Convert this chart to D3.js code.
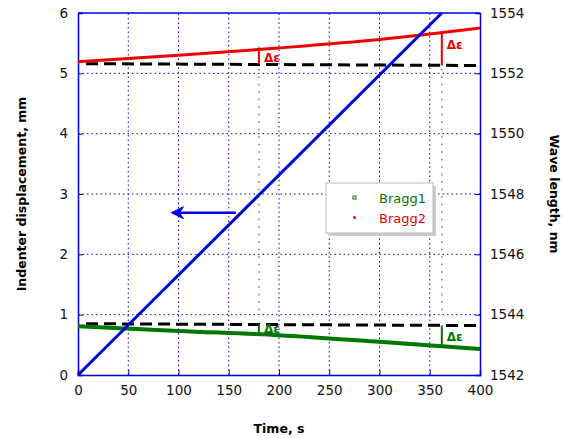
<!DOCTYPE html>
<html>
<head>
<meta charset="utf-8">
<script src="https://cdn.jsdelivr.net/npm/d3@7"></script>
<style>
  body { margin: 0; background: #fff; }
  text { font-family: "DejaVu Sans", Verdana, sans-serif; }
</style>
</head>
<body>
<svg id="chart" width="563" height="438"></svg>
<script>
// time axis, s
var xTicks = [0, 50, 100, 150, 200, 250, 300, 350, 400];
var yLeftTicks = [0, 1, 2, 3, 4, 5, 6];
var yRightTicks = [1542, 1544, 1546, 1548, 1550, 1552, 1554];

// indenter displacement (mm)
var dispTime = [0, 362];
var dispValue = [0, 6];

// wavelength (nm)
var braggTime = [0, 100, 200, 300, 400];
var bragg1 = [1543.62, 1543.46, 1543.32, 1543.10, 1542.86];
var bragg2 = [1552.38, 1552.60, 1552.84, 1553.12, 1553.50];

// initial wavelength reference (dashed)
var refTime = [8, 397];
var ref1 = [1543.70, 1543.64];
var ref2 = [1552.32, 1552.26];

// delta epsilon markers: time, from, to
var deltaRed = [[180, 1552.30, 1552.78], [362, 1552.26, 1553.34]];
var deltaGreen = [[180, 1543.68, 1543.33], [362, 1543.64, 1542.96]];
var markTimes = [180, 362];

var svg = d3.select('#chart');
var x = d3.scaleLinear().domain([0, 400]).range([78, 480]);
var yL = d3.scaleLinear().domain([0, 6]).range([375, 13]);
var yR = d3.scaleLinear().domain([1542, 1554]).range([375, 13]);

var blue = '#0000dd', red = '#ee0000', green = '#007700';

// grid
var grid = svg.append('g').attr('stroke', blue).attr('stroke-width', 1).attr('stroke-dasharray', '1.5,3');
grid.selectAll('line.gx').data(xTicks.slice(1, -1)).enter().append('line')
  .attr('x1', function(d) { return x(d); }).attr('x2', function(d) { return x(d); })
  .attr('y1', yL(0)).attr('y2', yL(6));
grid.selectAll('line.gy').data(yLeftTicks.slice(1, -1)).enter().append('line')
  .attr('y1', function(d) { return yL(d); }).attr('y2', function(d) { return yL(d); })
  .attr('x1', x(0)).attr('x2', x(400));

// gray dotted markers
svg.selectAll('line.mark').data(markTimes).enter().append('line')
  .attr('x1', function(d) { return x(d); }).attr('x2', function(d) { return x(d); })
  .attr('y1', yR(1552.9)).attr('y2', yR(1543.95))
  .attr('stroke', '#777').attr('stroke-width', 1.5).attr('stroke-dasharray', '1.5,6');

// axes
var xAxis = d3.axisBottom(x).tickValues(xTicks).tickSize(-5).tickPadding(10);
var yAxisL = d3.axisLeft(yL).tickValues(yLeftTicks).tickSize(-5).tickPadding(10).tickFormat(d3.format('d'));
var yAxisR = d3.axisRight(yR).tickValues(yRightTicks).tickSize(-5).tickPadding(10).tickFormat(d3.format('d'));

function styleAxis(g) {
  g.select('.domain').attr('stroke', blue).attr('stroke-width', 1.5);
  g.selectAll('.tick line').attr('stroke', blue);
  g.selectAll('.tick text').attr('fill', '#111').attr('font-size', 13.5);
}
svg.append('g').attr('transform', 'translate(0,' + yL(0) + ')').call(xAxis).call(styleAxis);
svg.append('g').attr('transform', 'translate(' + x(0) + ',0)').call(yAxisL).call(styleAxis);
svg.append('g').attr('transform', 'translate(' + x(400) + ',0)').call(yAxisR).call(styleAxis);
svg.append('line').attr('x1', x(0)).attr('x2', x(400)).attr('y1', yL(6)).attr('y2', yL(6))
  .attr('stroke', blue).attr('stroke-width', 1.5);

// lines
var lineR = d3.line().x(function(d) { return x(d[0]); }).y(function(d) { return yR(d[1]); });
var lineL = d3.line().x(function(d) { return x(d[0]); }).y(function(d) { return yL(d[1]); });

svg.append('path').datum(d3.zip(refTime, ref2)).attr('d', lineR)
  .attr('fill', 'none').attr('stroke', '#000').attr('stroke-width', 3).attr('stroke-dasharray', '12,6');
svg.append('path').datum(d3.zip(refTime, ref1)).attr('d', lineR)
  .attr('fill', 'none').attr('stroke', '#000').attr('stroke-width', 3).attr('stroke-dasharray', '12,6');

svg.append('path').datum(d3.zip(braggTime, bragg2)).attr('d', lineR.curve(d3.curveMonotoneX))
  .attr('fill', 'none').attr('stroke', red).attr('stroke-width', 3);
svg.append('path').datum(d3.zip(braggTime, bragg1)).attr('d', lineR)
  .attr('fill', 'none').attr('stroke', green).attr('stroke-width', 4);

svg.append('path').datum(d3.zip(dispTime, dispValue)).attr('d', lineL)
  .attr('fill', 'none').attr('stroke', blue).attr('stroke-width', 3);

// arrow pointing to left axis
var arrowY = yL(2.69);
svg.append('line').attr('x1', x(157)).attr('x2', x(94)).attr('y1', arrowY).attr('y2', arrowY)
  .attr('stroke', blue).attr('stroke-width', 2.5);
svg.append('path')
  .attr('d', 'M' + x(93) + ',' + arrowY + 'l12,-6 l-4,6 l4,6 z')
  .attr('fill', blue).attr('stroke', blue).attr('stroke-width', 1);

// delta epsilon markers
function deltaMarks(data, color, labelDy) {
  svg.selectAll(null).data(data).enter().append('line')
    .attr('x1', function(d) { return x(d[0]); }).attr('x2', function(d) { return x(d[0]); })
    .attr('y1', function(d) { return yR(d[1]); }).attr('y2', function(d) { return yR(d[2]); })
    .attr('stroke', color).attr('stroke-width', 2);
  svg.selectAll(null).data(data).enter().append('text')
    .attr('x', function(d) { return x(d[0]) + 5; })
    .attr('y', function(d, i) { return yR((d[1] + d[2]) / 2) + labelDy[i]; })
    .attr('fill', color).attr('font-size', 12).attr('font-weight', 'bold')
    .text('Δε');
}
deltaMarks(deltaRed, red, [5, 0]);
deltaMarks(deltaGreen, green, [3, 5]);

// legend
var lg = svg.append('g').attr('transform', 'translate(326,183)');
lg.append('rect').attr('x', 3).attr('y', 3).attr('width', 107).attr('height', 50).attr('fill', '#ccc');
lg.append('rect').attr('width', 107).attr('height', 50).attr('fill', '#fff').attr('stroke', '#bbb');
lg.append('rect').attr('x', 27).attr('y', 13).attr('width', 3).attr('height', 3)
  .attr('fill', 'none').attr('stroke', green).attr('stroke-width', 1);
lg.append('circle').attr('cx', 28.5).attr('cy', 34.5).attr('r', 1.5).attr('fill', red);
lg.append('text').attr('x', 53).attr('y', 20).attr('fill', green).attr('font-size', 13).text('Bragg1');
lg.append('text').attr('x', 53).attr('y', 40).attr('fill', red).attr('font-size', 13).text('Bragg2');

// axis titles
svg.append('text').attr('transform', 'translate(26,' + 194 + ') rotate(-90)')
  .attr('text-anchor', 'middle').attr('font-size', 12.5).attr('font-weight', 'bold').text('Indenter displacement, mm');
svg.append('text').attr('transform', 'translate(550,' + 194 + ') rotate(90)')
  .attr('text-anchor', 'middle').attr('font-size', 12.5).attr('font-weight', 'bold').text('Wave length, nm');
svg.append('text').attr('x', 279).attr('y', 433)
  .attr('text-anchor', 'middle').attr('font-size', 12.5).attr('font-weight', 'bold').text('Time, s');
</script>
</body>
</html>
